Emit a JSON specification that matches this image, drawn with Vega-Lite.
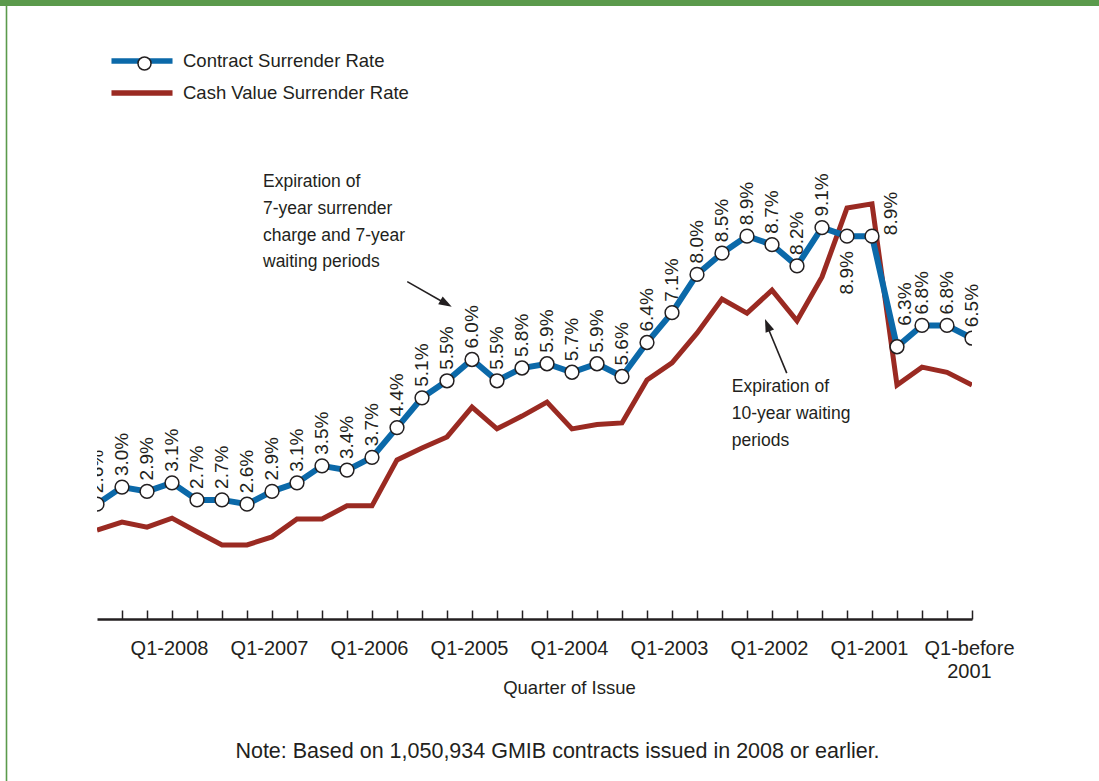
{
  "$schema": "https://vega.github.io/schema/vega-lite/v6.json",
  "autosize": {"type": "none"},
  "padding": {"left": 97, "top": 100, "right": 127, "bottom": 162},
  "width": 875,
  "height": 519,
  "background": "white",
  "config": {
    "view": {"stroke": null},
    "font": "Liberation Sans, sans-serif",
    "text": {"font": "Liberation Sans, sans-serif", "color": "#231f20"}
  },
  "data": {
    "values": [
      {"idx": 1, "quarter": "Q4-2008", "series": "Contract Surrender Rate", "rate": 0.026},
      {"idx": 2, "quarter": "Q3-2008", "series": "Contract Surrender Rate", "rate": 0.030},
      {"idx": 3, "quarter": "Q2-2008", "series": "Contract Surrender Rate", "rate": 0.029},
      {"idx": 4, "quarter": "Q1-2008", "series": "Contract Surrender Rate", "rate": 0.031},
      {"idx": 5, "quarter": "Q4-2007", "series": "Contract Surrender Rate", "rate": 0.027},
      {"idx": 6, "quarter": "Q3-2007", "series": "Contract Surrender Rate", "rate": 0.027},
      {"idx": 7, "quarter": "Q2-2007", "series": "Contract Surrender Rate", "rate": 0.026},
      {"idx": 8, "quarter": "Q1-2007", "series": "Contract Surrender Rate", "rate": 0.029},
      {"idx": 9, "quarter": "Q4-2006", "series": "Contract Surrender Rate", "rate": 0.031},
      {"idx": 10, "quarter": "Q3-2006", "series": "Contract Surrender Rate", "rate": 0.035},
      {"idx": 11, "quarter": "Q2-2006", "series": "Contract Surrender Rate", "rate": 0.034},
      {"idx": 12, "quarter": "Q1-2006", "series": "Contract Surrender Rate", "rate": 0.037},
      {"idx": 13, "quarter": "Q4-2005", "series": "Contract Surrender Rate", "rate": 0.044},
      {"idx": 14, "quarter": "Q3-2005", "series": "Contract Surrender Rate", "rate": 0.051},
      {"idx": 15, "quarter": "Q2-2005", "series": "Contract Surrender Rate", "rate": 0.055},
      {"idx": 16, "quarter": "Q1-2005", "series": "Contract Surrender Rate", "rate": 0.060},
      {"idx": 17, "quarter": "Q4-2004", "series": "Contract Surrender Rate", "rate": 0.055},
      {"idx": 18, "quarter": "Q3-2004", "series": "Contract Surrender Rate", "rate": 0.058},
      {"idx": 19, "quarter": "Q2-2004", "series": "Contract Surrender Rate", "rate": 0.059},
      {"idx": 20, "quarter": "Q1-2004", "series": "Contract Surrender Rate", "rate": 0.057},
      {"idx": 21, "quarter": "Q4-2003", "series": "Contract Surrender Rate", "rate": 0.059},
      {"idx": 22, "quarter": "Q3-2003", "series": "Contract Surrender Rate", "rate": 0.056},
      {"idx": 23, "quarter": "Q2-2003", "series": "Contract Surrender Rate", "rate": 0.064},
      {"idx": 24, "quarter": "Q1-2003", "series": "Contract Surrender Rate", "rate": 0.071},
      {"idx": 25, "quarter": "Q4-2002", "series": "Contract Surrender Rate", "rate": 0.080},
      {"idx": 26, "quarter": "Q3-2002", "series": "Contract Surrender Rate", "rate": 0.085},
      {"idx": 27, "quarter": "Q2-2002", "series": "Contract Surrender Rate", "rate": 0.089},
      {"idx": 28, "quarter": "Q1-2002", "series": "Contract Surrender Rate", "rate": 0.087},
      {"idx": 29, "quarter": "Q4-2001", "series": "Contract Surrender Rate", "rate": 0.082},
      {"idx": 30, "quarter": "Q3-2001", "series": "Contract Surrender Rate", "rate": 0.091},
      {"idx": 31, "quarter": "Q2-2001", "series": "Contract Surrender Rate", "rate": 0.089},
      {"idx": 32, "quarter": "Q1-2001", "series": "Contract Surrender Rate", "rate": 0.089},
      {"idx": 33, "quarter": "Q4-before 2001", "series": "Contract Surrender Rate", "rate": 0.063},
      {"idx": 34, "quarter": "Q3-before 2001", "series": "Contract Surrender Rate", "rate": 0.068},
      {"idx": 35, "quarter": "Q2-before 2001", "series": "Contract Surrender Rate", "rate": 0.068},
      {"idx": 36, "quarter": "Q1-before 2001", "series": "Contract Surrender Rate", "rate": 0.065},
      {"idx": 1, "quarter": "Q4-2008", "series": "Cash Value Surrender Rate", "rate": 0.0199},
      {"idx": 2, "quarter": "Q3-2008", "series": "Cash Value Surrender Rate", "rate": 0.0218},
      {"idx": 3, "quarter": "Q2-2008", "series": "Cash Value Surrender Rate", "rate": 0.0206},
      {"idx": 4, "quarter": "Q1-2008", "series": "Cash Value Surrender Rate", "rate": 0.0227},
      {"idx": 5, "quarter": "Q4-2007", "series": "Cash Value Surrender Rate", "rate": 0.0195},
      {"idx": 6, "quarter": "Q3-2007", "series": "Cash Value Surrender Rate", "rate": 0.0164},
      {"idx": 7, "quarter": "Q2-2007", "series": "Cash Value Surrender Rate", "rate": 0.0164},
      {"idx": 8, "quarter": "Q1-2007", "series": "Cash Value Surrender Rate", "rate": 0.0183},
      {"idx": 9, "quarter": "Q4-2006", "series": "Cash Value Surrender Rate", "rate": 0.0225},
      {"idx": 10, "quarter": "Q3-2006", "series": "Cash Value Surrender Rate", "rate": 0.0225},
      {"idx": 11, "quarter": "Q2-2006", "series": "Cash Value Surrender Rate", "rate": 0.0256},
      {"idx": 12, "quarter": "Q1-2006", "series": "Cash Value Surrender Rate", "rate": 0.0256},
      {"idx": 13, "quarter": "Q4-2005", "series": "Cash Value Surrender Rate", "rate": 0.0364},
      {"idx": 14, "quarter": "Q3-2005", "series": "Cash Value Surrender Rate", "rate": 0.0392},
      {"idx": 15, "quarter": "Q2-2005", "series": "Cash Value Surrender Rate", "rate": 0.0418},
      {"idx": 16, "quarter": "Q1-2005", "series": "Cash Value Surrender Rate", "rate": 0.0488},
      {"idx": 17, "quarter": "Q4-2004", "series": "Cash Value Surrender Rate", "rate": 0.0437},
      {"idx": 18, "quarter": "Q3-2004", "series": "Cash Value Surrender Rate", "rate": 0.0467},
      {"idx": 19, "quarter": "Q2-2004", "series": "Cash Value Surrender Rate", "rate": 0.0500},
      {"idx": 20, "quarter": "Q1-2004", "series": "Cash Value Surrender Rate", "rate": 0.0437},
      {"idx": 21, "quarter": "Q4-2003", "series": "Cash Value Surrender Rate", "rate": 0.0447},
      {"idx": 22, "quarter": "Q3-2003", "series": "Cash Value Surrender Rate", "rate": 0.0451},
      {"idx": 23, "quarter": "Q2-2003", "series": "Cash Value Surrender Rate", "rate": 0.0552},
      {"idx": 24, "quarter": "Q1-2003", "series": "Cash Value Surrender Rate", "rate": 0.0592},
      {"idx": 25, "quarter": "Q4-2002", "series": "Cash Value Surrender Rate", "rate": 0.0662},
      {"idx": 26, "quarter": "Q3-2002", "series": "Cash Value Surrender Rate", "rate": 0.0742},
      {"idx": 27, "quarter": "Q2-2002", "series": "Cash Value Surrender Rate", "rate": 0.0709},
      {"idx": 28, "quarter": "Q1-2002", "series": "Cash Value Surrender Rate", "rate": 0.0763},
      {"idx": 29, "quarter": "Q4-2001", "series": "Cash Value Surrender Rate", "rate": 0.0691},
      {"idx": 30, "quarter": "Q3-2001", "series": "Cash Value Surrender Rate", "rate": 0.0794},
      {"idx": 31, "quarter": "Q2-2001", "series": "Cash Value Surrender Rate", "rate": 0.0956},
      {"idx": 32, "quarter": "Q1-2001", "series": "Cash Value Surrender Rate", "rate": 0.0966},
      {"idx": 33, "quarter": "Q4-before 2001", "series": "Cash Value Surrender Rate", "rate": 0.0540},
      {"idx": 34, "quarter": "Q3-before 2001", "series": "Cash Value Surrender Rate", "rate": 0.0582},
      {"idx": 35, "quarter": "Q2-before 2001", "series": "Cash Value Surrender Rate", "rate": 0.0570},
      {"idx": 36, "quarter": "Q1-before 2001", "series": "Cash Value Surrender Rate", "rate": 0.0540}
    ]
  },
  "encoding": {
    "x": {
      "field": "idx", "type": "quantitative",
      "scale": {"domain": [1, 36], "nice": false, "zero": false},
      "axis": {
        "values": [2,3,4,5,6,7,8,9,10,11,12,13,14,15,16,17,18,19,20,21,22,23,24,25,26,27,28,29,30,31,32,33,34,35,36],
        "labelExpr": "datum.value == 36 ? ['Q1-before', '2001'] : (datum.value % 4 == 0 ? 'Q1-' + (2009 - datum.value / 4) : '')",
        "grid": false,
        "domainColor": "#231f20", "domainWidth": 2.5,
        "tickColor": "#231f20", "tickWidth": 1.5, "tickSize": -9,
        "labelFont": "Liberation Sans, sans-serif",
        "labelFontSize": 20, "labelColor": "#231f20",
        "labelAngle": 0, "labelAlign": "center", "labelBaseline": "top",
        "labelPadding": 28, "labelFlush": false, "labelOverlap": false, "labelBound": false,
        "labelLineHeight": 23, "labelOffset": -3,
        "title": "Quarter of Issue",
        "titleFont": "Liberation Sans, sans-serif",
        "titleFontSize": 18.5, "titleFontWeight": "normal", "titleColor": "#231f20",
        "titleX": 472, "titleY": 74, "titleAlign": "center", "titleBaseline": "alphabetic"
      }
    },
    "y": {
      "field": "rate", "type": "quantitative",
      "scale": {"domain": [-0.001, 0.121], "nice": false, "zero": false},
      "axis": null
    }
  },
  "layer": [
    {
      "transform": [{"filter": "datum.series == 'Cash Value Surrender Rate'"}],
      "mark": {"type": "line", "strokeWidth": 5, "clip": true, "strokeJoin": "miter"},
      "encoding": {
        "color": {
          "field": "series", "type": "nominal",
          "scale": {"domain": ["Contract Surrender Rate", "Cash Value Surrender Rate"], "range": ["#0b69a9", "#9a2a22"]},
          "legend": {
            "orient": "none", "legendX": 32, "legendY": -52, "title": null, "padding": 0,
            "symbolType": "M-3,0H3", "symbolSize": 414, "symbolStrokeWidth": 5.5,
            "labelFont": "Liberation Sans, sans-serif", "labelLimit": 500,
            "labelFontSize": 18.5, "labelColor": "#231f20", "labelOffset": 28, "rowPadding": 8
          }
        }
      }
    },
    {
      "transform": [{"filter": "datum.series == 'Contract Surrender Rate'"}],
      "mark": {"type": "line", "strokeWidth": 6, "clip": true, "strokeJoin": "miter"},
      "encoding": {
        "color": {"field": "series", "type": "nominal"}
      }
    },
    {
      "transform": [{"filter": "datum.series == 'Contract Surrender Rate'"}],
      "mark": {"type": "point", "filled": true, "fill": "white", "stroke": "#231f20", "strokeWidth": 1.5, "size": 190, "opacity": 1, "clip": true},
      "encoding": {
        "shape": {
          "datum": "Contract Surrender Rate",
          "scale": {"range": ["circle"]},
          "legend": {
            "orient": "none", "legendX": 40, "legendY": -44, "title": null, "padding": 0,
            "symbolSize": 170, "labelExpr": "''", "labelFontSize": 1,
            "encode": {"symbols": {"update": {"fill": {"value": "white"}, "stroke": {"value": "#231f20"}, "strokeWidth": {"value": 1.5}, "opacity": {"value": 1}}}}
          }
        }
      }
    },
    {
      "transform": [{"filter": "datum.series == 'Contract Surrender Rate' && datum.idx == 1"}],
      "mark": {"type": "text", "angle": 270, "align": "left", "baseline": "middle", "dx": 11, "fontSize": 19, "clip": true},
      "encoding": {"text": {"field": "rate", "type": "quantitative", "format": ".1%"}}
    },
    {
      "transform": [{"filter": "datum.series == 'Contract Surrender Rate' && datum.idx > 1 && datum.idx != 31 && datum.idx != 32 && datum.idx != 33"}],
      "mark": {"type": "text", "angle": 270, "align": "left", "baseline": "middle", "dx": 11, "fontSize": 19},
      "encoding": {"text": {"field": "rate", "type": "quantitative", "format": ".1%"}}
    },
    {
      "transform": [{"filter": "datum.series == 'Contract Surrender Rate' && datum.idx == 31"}],
      "mark": {"type": "text", "angle": 270, "align": "right", "baseline": "middle", "dx": -15, "fontSize": 19},
      "encoding": {"text": {"field": "rate", "type": "quantitative", "format": ".1%"}}
    },
    {
      "transform": [{"filter": "datum.series == 'Contract Surrender Rate' && datum.idx == 32"}],
      "mark": {"type": "text", "angle": 270, "align": "left", "baseline": "middle", "dx": 1, "dy": 19, "fontSize": 19},
      "encoding": {"text": {"field": "rate", "type": "quantitative", "format": ".1%"}}
    },
    {
      "transform": [{"filter": "datum.series == 'Contract Surrender Rate' && datum.idx == 33"}],
      "mark": {"type": "text", "angle": 270, "align": "left", "baseline": "middle", "dx": 21, "dy": 8, "fontSize": 19},
      "encoding": {"text": {"field": "rate", "type": "quantitative", "format": ".1%"}}
    },
    {
      "transform": [{"filter": "datum.series == 'Contract Surrender Rate' && datum.idx == 1"}],
      "mark": {"type": "text", "align": "left", "baseline": "top", "fontSize": 17.5, "lineHeight": 26.7},
      "encoding": {
        "x": {"datum": 7.64, "type": "quantitative"},
        "y": {"datum": 0.1038, "type": "quantitative"},
        "text": {"value": ["Expiration of", "7-year surrender", "charge and 7-year", "waiting periods"]}
      }
    },
    {
      "transform": [{"filter": "datum.series == 'Contract Surrender Rate' && datum.idx == 1"}],
      "mark": {"type": "text", "align": "left", "baseline": "top", "fontSize": 17.5, "lineHeight": 26.7},
      "encoding": {
        "x": {"datum": 26.39, "type": "quantitative"},
        "y": {"datum": 0.0556, "type": "quantitative"},
        "text": {"value": ["Expiration of", "10-year waiting", "periods"]}
      }
    },
    {
      "transform": [{"filter": "datum.series == 'Contract Surrender Rate' && datum.idx == 1"}],
      "mark": {"type": "text", "align": "center", "baseline": "middle", "fontSize": 21.5},
      "encoding": {
        "x": {"datum": 19.42, "type": "quantitative"},
        "y": {"datum": -0.0323, "type": "quantitative"},
        "text": {"value": "Note: Based on 1,050,934 GMIB contracts issued in 2008 or earlier."}
      }
    },
    {
      "transform": [{"filter": "datum.series == 'Contract Surrender Rate' && datum.idx == 1"}],
      "mark": {"type": "rule", "color": "#231f20", "strokeWidth": 1.6},
      "encoding": {
        "x": {"datum": 13.41, "type": "quantitative"},
        "y": {"datum": 0.0783, "type": "quantitative"},
        "x2": {"datum": 15.05},
        "y2": {"datum": 0.0728}
      }
    },
    {
      "transform": [{"filter": "datum.series == 'Contract Surrender Rate' && datum.idx == 1"}],
      "mark": {"type": "point", "shape": "M0,0L-2,-0.7L-2,0.7Z", "filled": true, "color": "#231f20", "opacity": 1, "size": 169, "angle": 29.4},
      "encoding": {
        "x": {"datum": 15.19, "type": "quantitative"},
        "y": {"datum": 0.0724, "type": "quantitative"}
      }
    },
    {
      "transform": [{"filter": "datum.series == 'Contract Surrender Rate' && datum.idx == 1"}],
      "mark": {"type": "rule", "color": "#231f20", "strokeWidth": 1.6},
      "encoding": {
        "x": {"datum": 28.59, "type": "quantitative"},
        "y": {"datum": 0.0568, "type": "quantitative"},
        "x2": {"datum": 27.8},
        "y2": {"datum": 0.068}
      }
    },
    {
      "transform": [{"filter": "datum.series == 'Contract Surrender Rate' && datum.idx == 1"}],
      "mark": {"type": "point", "shape": "M0,0L-2,-0.7L-2,0.7Z", "filled": true, "color": "#231f20", "opacity": 1, "size": 169, "angle": 248.1},
      "encoding": {
        "x": {"datum": 27.72, "type": "quantitative"},
        "y": {"datum": 0.0695, "type": "quantitative"}
      }
    },
    {
      "transform": [{"filter": "datum.series == 'Contract Surrender Rate' && datum.idx == 1"}],
      "mark": {"type": "rule", "color": "#5b9a4c", "strokeWidth": 1.6},
      "encoding": {
        "x": {"datum": -2.62, "type": "quantitative"},
        "y": {"datum": 0.145, "type": "quantitative"},
        "y2": {"datum": -0.06}
      }
    },
    {
      "transform": [{"filter": "datum.series == 'Contract Surrender Rate' && datum.idx == 1"}],
      "mark": {"type": "rule", "color": "#5b9a4c", "strokeWidth": 6},
      "encoding": {
        "x": {"datum": -4, "type": "quantitative"},
        "x2": {"datum": 45},
        "y": {"datum": 0.1438, "type": "quantitative"}
      }
    }
  ]
}
